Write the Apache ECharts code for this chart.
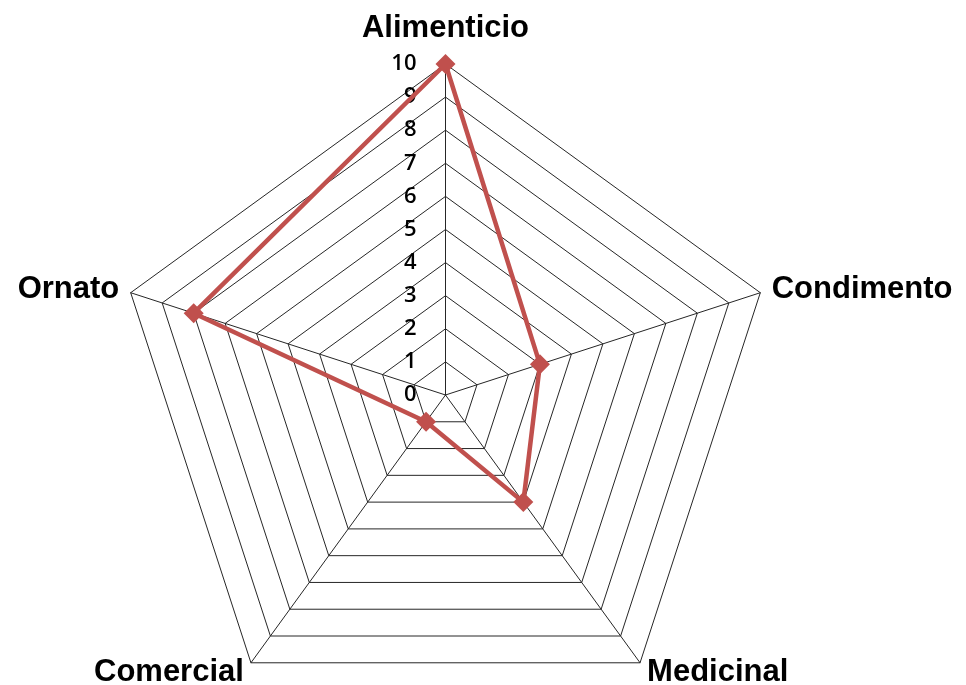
<!DOCTYPE html>
<html>
<head>
<meta charset="utf-8">
<title>Usos</title>
<script src="https://cdn.jsdelivr.net/npm/echarts@6/dist/echarts.min.js"></script>
<style>
  html, body { margin: 0; padding: 0; background: #ffffff; }
  #chart { width: 966px; height: 685px; }
</style>
</head>
<body>
<div id="chart"></div>
<script>
// Uses, listed clockwise from the top
const categories = ['Alimenticio', 'Condimento', 'Medicinal', 'Comercial', 'Ornato'];
const values = [10, 3, 4, 1, 8];
const scaleMin = 0;
const scaleMax = 10;
const scaleSteps = 10;

// ECharts lays radar indicators out counter-clockwise, so walk the list backwards after the first
const order = [0].concat(categories.slice(1).map((_, i) => categories.length - 1 - i));

const nameFont = {
  color: '#000000',
  fontSize: 31,
  fontWeight: 'bold',
  fontFamily: 'Liberation Sans'
};

const indicator = order.map((idx, k) => {
  const ind = { name: categories[idx], min: scaleMin, max: scaleMax };
  if (k === 0) {
    // scale numbers only along the top spoke
    ind.axisLabel = {
      show: true,
      color: '#000000',
      fontSize: 22,
      fontWeight: 600,
      fontFamily: 'Open Sans',
      margin: 29,
      align: 'right',
      verticalAlign: 'middle'
    };
  }
  return ind;
});

const chart = echarts.init(document.getElementById('chart'), null, { renderer: 'canvas' });
chart.setOption({
  backgroundColor: '#ffffff',
  animation: false,
  radar: {
    center: [445.5, 395],
    radius: 331,
    startAngle: 90,
    splitNumber: scaleSteps,
    shape: 'polygon',
    indicator: indicator,
    axisName: Object.assign({}, nameFont, {
      // lift the top title a little further off its spoke
      formatter: (name) => name === categories[0] ? '{top|' + name + '}' : name,
      rich: {
        top: Object.assign({}, nameFont, { padding: [0, 0, 8, 0] })
      }
    }),
    nameGap: 12,
    axisLine: { lineStyle: { color: '#262626', width: 1 } },
    axisTick: { show: false },
    axisLabel: { show: false },
    splitLine: { lineStyle: { color: '#262626', width: 1 } },
    splitArea: { show: false }
  },
  series: [{
    type: 'radar',
    symbol: 'diamond',
    symbolSize: 20,
    lineStyle: { color: '#C0504D', width: 4.5 },
    itemStyle: { color: '#C0504D' },
    data: [{ value: order.map(idx => values[idx]) }]
  }]
});
</script>
</body>
</html>
